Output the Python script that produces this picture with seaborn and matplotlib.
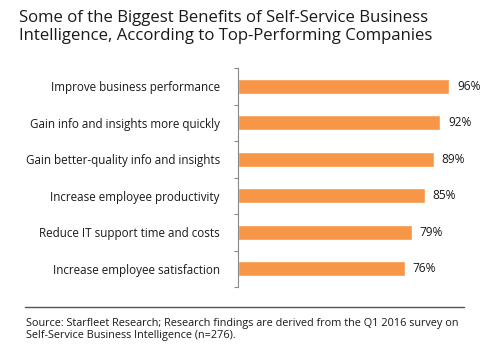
import numpy as np
import pandas as pd
import matplotlib
matplotlib.use('Agg')
import matplotlib.pyplot as plt
import seaborn as sns

# data
benefits = ['Improve business performance',
            'Gain info and insights more quickly',
            'Gain better-quality info and insights',
            'Increase employee productivity',
            'Reduce IT support time and costs',
            'Increase employee satisfaction']
pct = [96, 92, 89, 85, 79, 76]

df = pd.DataFrame({'benefit': benefits, 'pct': pct})

sns.set_theme(style='white')
plt.rcParams['font.family'] = ['Open Sans', 'DejaVu Sans']

W, H = 498, 355
fig = plt.figure(figsize=(W / 100, H / 100), dpi=100)
ax = fig.add_axes([238 / W, 1 - 287 / H, 260 / W, 219 / H])

sns.barplot(data=df, x='pct', y='benefit', color='#F79646', width=0.41,
            saturation=1, ax=ax)

ax.set_xlim(0, 260 / 2.2)
ax.set_ylim(len(benefits) - 0.5, -0.5)
ax.set_xlabel('')
ax.set_ylabel('')
ax.set_xticks([])
for s in ['top', 'right', 'bottom']:
    ax.spines[s].set_visible(False)
ax.spines['left'].set_color('#888888')
ax.spines['left'].set_linewidth(0.8)

ax.tick_params(axis='y', which='major', left=True, length=0, pad=13,
               labelsize=8.4, labelcolor='#1a1a1a')
ax.set_yticks(np.arange(-0.5, len(benefits)), minor=True)
ax.tick_params(axis='y', which='minor', left=True, length=3, width=0.8,
               color='#888888', direction='out')

for i, v in enumerate(pct):
    ax.text(v + 3.5, i, f'{v}%', va='center', ha='left', fontsize=8.6,
            color='#1a1a1a')

fig.text(19 / W, 1 - 10 / H,
         'Some of the Biggest Benefits of Self-Service Business\n'
         'Intelligence, According to Top-Performing Companies',
         ha='left', va='top', fontsize=12.1, color='#1a1a1a', linespacing=1.2)

fig.add_artist(plt.Line2D([25 / W, 464 / W], [1 - 307 / H, 1 - 307 / H],
                          color='#555555', lw=1.0))

fig.text(26 / W, 1 - 318 / H,
         'Source: Starfleet Research; Research findings are derived from the Q1 2016 survey on\n'
         'Self-Service Business Intelligence (n=276).',
         ha='left', va='top', fontsize=7.8, color='#1a1a1a', linespacing=1.15)

fig.savefig('out.png', dpi=100)
